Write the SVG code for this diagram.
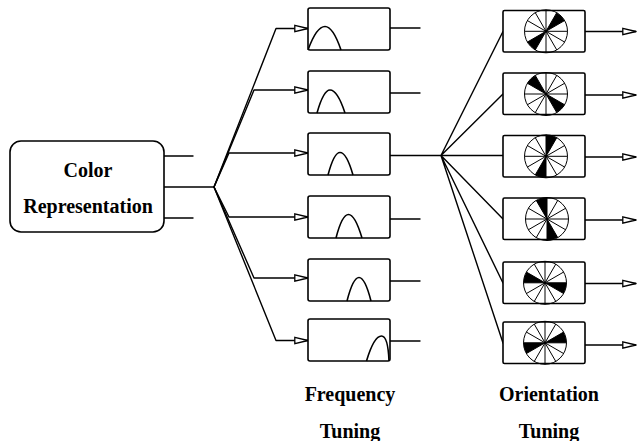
<svg xmlns="http://www.w3.org/2000/svg" width="637" height="441" viewBox="0 0 637 441">
<style>
.ln{fill:none;stroke:#000;stroke-width:1.4;stroke-linecap:round;stroke-linejoin:round}
.bx{fill:#fff;stroke:#000;stroke-width:1.6}
.bump{fill:none;stroke:#000;stroke-width:1.6}
.txt{font-family:"Liberation Serif","Times New Roman",serif;font-weight:bold;font-size:20px;text-anchor:middle;fill:#000}
.sp{stroke:#000;stroke-width:1;fill:none}
.arr{marker-end:url(#tri)}
</style>
<defs>
<marker id="tri" markerUnits="userSpaceOnUse" markerWidth="15" markerHeight="9" viewBox="0 0 15 9" refX="14" refY="4.5" orient="auto">
<path d="M0.8,1.3 L14,4.5 L0.8,7.7 Z" fill="#fff" stroke="#000" stroke-width="1.3"/>
</marker>
<g id="wedges">
<path d="M0,0 L21.5,0 A21.5,21.5 0 0 0 18.62,-10.75 Z M0,0 L-21.5,0 A21.5,21.5 0 0 0 -18.62,10.75 Z" fill="#000"/>
</g>
<g id="wheel">
<circle r="21.5" class="sp" stroke-width="1.3"/>
<path class="sp" d="M-21.5,0 H21.5 M0,-21.5 V21.5 M-18.62,-10.75 L18.62,10.75 M-18.62,10.75 L18.62,-10.75 M-10.75,-18.62 L10.75,18.62 M-10.75,18.62 L10.75,-18.62"/>
</g>
</defs>

<g id="connectors">
<path class="ln" d="M164,156 H193 M164,187 H214 M164,218 H193"/>
<path class="ln arr" d="M214,187 L276,28.5 H308"/>
<path class="ln arr" d="M214,187 L254,90 H308"/>
<path class="ln arr" d="M214,187 L229,153 H308"/>
<path class="ln arr" d="M214,187 L229,217 H308"/>
<path class="ln arr" d="M214,187 L254,278 H308"/>
<path class="ln arr" d="M214,187 L276,340.5 H308"/>
<path class="ln" d="M390,28 H420 M390,93 H420 M390,219 H420 M390,281 H420 M390,341 H420"/>
<path class="ln" d="M390,155.5 H503"/>
<path class="ln" d="M441,155.5 L503,31.5 M441,155.5 L503,94 M441,155.5 L503,219 M441,155.5 L503,283 M441,155.5 L503,343"/>
<path class="ln arr" d="M585,31.5 H636"/>
<path class="ln arr" d="M585,95 H636"/>
<path class="ln arr" d="M585,157 H636"/>
<path class="ln arr" d="M585,220 H636"/>
<path class="ln arr" d="M585,283.5 H636"/>
<path class="ln arr" d="M585,345 H636"/>
</g>

<g id="color-representation">
<rect class="bx" x="10" y="141" width="154" height="91" rx="11"/>
<text class="txt" x="88" y="177">Color</text>
<text class="txt" x="88" y="213">Representation</text>
</g>

<g id="freq1">
<rect class="bx" x="308" y="8" width="82" height="42" rx="2"/>
<path class="bump" d="M308,50 Q316.5,26.5 325,26.5 Q333,26.5 341,50"/>
</g>
<g id="freq2">
<rect class="bx" x="308" y="71" width="82" height="42" rx="2"/>
<path class="bump" d="M317,113 Q323.5,90 330,90 Q337.5,90 345,113"/>
</g>
<g id="freq3">
<rect class="bx" x="308" y="133" width="82" height="42" rx="2"/>
<path class="bump" d="M328,175 Q334,152.5 340,152.5 Q346.5,152.5 353,175"/>
</g>
<g id="freq4">
<rect class="bx" x="308" y="196" width="82" height="42" rx="2"/>
<path class="bump" d="M336,238 Q342,214.5 348.5,214.5 Q355,214.5 362,238"/>
</g>
<g id="freq5">
<rect class="bx" x="308" y="259" width="82" height="42" rx="2"/>
<path class="bump" d="M347,301 Q353,277.5 359,277.5 Q365,277.5 371,301"/>
</g>
<g id="freq6">
<rect class="bx" x="308" y="319" width="82" height="42" rx="2"/>
<path class="bump" d="M366.5,361 Q374,336 381.5,336 Q388,336 389,361"/>
</g>

<g id="orient1">
<rect class="bx" x="503" y="10.5" width="82" height="41.5" rx="1.5"/>
<use href="#wedges" transform="translate(546,31.3) rotate(-30)"/>
<use href="#wheel" transform="translate(546,31.3)"/>
</g>
<g id="orient2">
<rect class="bx" x="503" y="73" width="82" height="41.5" rx="1.5"/>
<use href="#wedges" transform="translate(546,94) rotate(-120)"/>
<use href="#wheel" transform="translate(546,94)"/>
</g>
<g id="orient3">
<rect class="bx" x="503" y="135.5" width="82" height="41.5" rx="1.5"/>
<use href="#wedges" transform="translate(546,156.3) rotate(-60)"/>
<use href="#wheel" transform="translate(546,156.3)"/>
</g>
<g id="orient4">
<rect class="bx" x="503" y="198" width="82" height="41.5" rx="1.5"/>
<use href="#wedges" transform="translate(547,219) rotate(-90)"/>
<use href="#wheel" transform="translate(547,219)"/>
</g>
<g id="orient5">
<rect class="bx" x="503" y="262" width="82" height="41.5" rx="1.5"/>
<use href="#wedges" transform="translate(545,282.8) rotate(-150)"/>
<use href="#wheel" transform="translate(545,282.8)"/>
</g>
<g id="orient6">
<rect class="bx" x="503" y="322" width="82" height="41.5" rx="1.5"/>
<use href="#wedges" transform="translate(545,342.8)"/>
<use href="#wheel" transform="translate(545,342.8)"/>
</g>

<g id="labels">
<text class="txt" x="350" y="401">Frequency</text>
<text class="txt" x="350" y="438">Tuning</text>
<text class="txt" x="549" y="401">Orientation</text>
<text class="txt" x="549" y="438">Tuning</text>
</g>
</svg>
